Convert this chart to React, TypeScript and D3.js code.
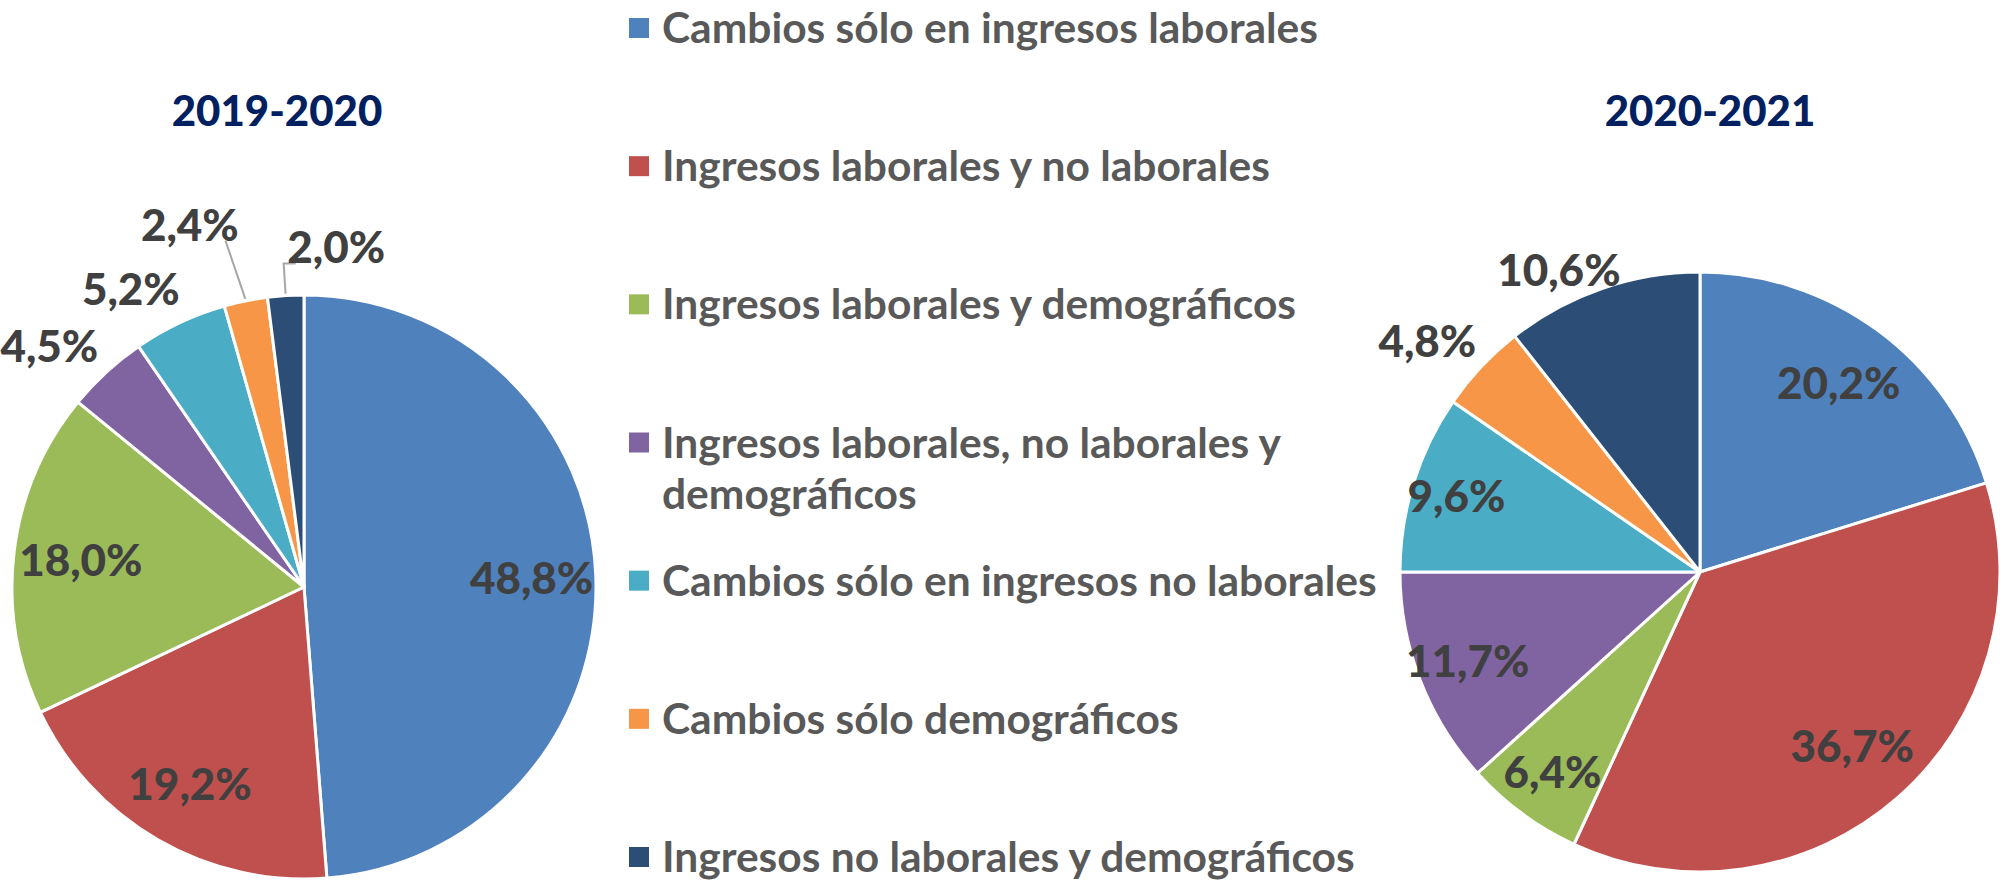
import React from "react";
import * as d3 from "d3";

const categories = [
  "Cambios sólo en ingresos laborales",
  "Ingresos laborales y no laborales",
  "Ingresos laborales y demográficos",
  "Ingresos laborales, no laborales y demográficos",
  "Cambios sólo en ingresos no laborales",
  "Cambios sólo demográficos",
  "Ingresos no laborales y demográficos",
];

const periods = ["2019-2020", "2020-2021"];
const values2019 = [48.8, 19.2, 18.0, 4.5, 5.2, 2.4, 2.0];
const values2021 = [20.2, 36.7, 6.4, 11.7, 9.6, 4.8, 10.6];

const colors = ["#4F81BD", "#C0504D", "#9BBB59", "#8064A2", "#4BACC6", "#F79646", "#2C4D75"];

// label placement per chart: radius factor and angle nudge (deg)
const placement = [
  {
    cx: 304, cy: 587, r: 292,
    labels: [
      { k: 0.78, da: 0 },
      { k: 0.78, da: 0 },
      { k: 0.77, da: 0 },
      { k: 1.2, da: -4 },
      { k: 1.18, da: -5 },
      { k: 1.3, da: -6, leader: 1.21 },
      { k: 1.17, da: 9, leader: 1.11, elbow: true },
    ],
  },
  {
    cx: 1700, cy: 572, r: 300,
    labels: [
      { k: 0.78, da: 0 },
      { k: 0.77, da: 0 },
      { k: 0.83, da: 0 },
      { k: 0.83, da: 0 },
      { k: 0.85, da: 0 },
      { k: 1.19, da: -3 },
      { k: 1.11, da: -6 },
    ],
  },
];

const font = "Lato, 'Open Sans', sans-serif";
const fmt = (v: number) => v.toFixed(1).replace(".", ",") + "%";

function Pie({ values, conf, title, titleX }: any) {
  const pie = d3.pie<number>().sort(null).value((d) => d);
  const arcs = pie(values);
  const arc = d3.arc<d3.PieArcDatum<number>>().innerRadius(0).outerRadius(conf.r);
  const polar = (ang: number, rad: number) => [Math.sin(ang) * rad, -Math.cos(ang) * rad];

  return (
    <g>
      <text x={titleX} y={126} textAnchor="middle" fontFamily={font} fontWeight={900}
        fontSize={42} fill="#002060">{title}</text>
      <g transform={`translate(${conf.cx},${conf.cy})`}>
        {arcs.map((a, i) => (
          <path key={i} d={arc(a) || ""} fill={colors[i]} stroke="#fff" strokeWidth={3} strokeLinejoin="round" />
        ))}
        {arcs.map((a, i) => {
          const p = conf.labels[i];
          const mid = (a.startAngle + a.endAngle) / 2;
          const [lx, ly] = polar(mid + (p.da * Math.PI) / 180, conf.r * p.k);
          let leader = null;
          if (p.leader) {
            const [x0, y0] = polar(mid, conf.r + 2);
            const [x1, y1] = polar(mid, conf.r * p.leader);
            const pts = p.elbow ? `${x0},${y0} ${x1},${y1} ${x1 + 12},${y1}` : `${x0},${y0} ${x1 - 8},${y1}`;
            leader = <polyline points={pts} fill="none" stroke="#A6A6A6" strokeWidth={2} />;
          }
          return (
            <g key={i}>
              {leader}
              <text x={lx} y={ly} dy="0.36em" textAnchor="middle" fontFamily={font} fontWeight={900}
                fontSize={44} fill="#404040">{fmt(values[i])}</text>
            </g>
          );
        })}
      </g>
    </g>
  );
}

function Legend() {
  const y = d3.scaleLinear().domain([0, 6]).range([28, 857]);
  return (
    <g>
      {categories.map((c, i) => {
        const lines = i === 3 ? ["Ingresos laborales, no laborales y", "demográficos"] : [c];
        return (
          <g key={i} transform={`translate(629,${y(i)})`}>
            <rect x={0} y={-10} width={20} height={20} fill={colors[i]} />
            {lines.map((l, j) => (
              <text key={j} x={33} y={15 + j * 51} fontFamily={font} fontWeight={700}
                fontSize={42.5} fill="#595959">{l}</text>
            ))}
          </g>
        );
      })}
    </g>
  );
}

export default function App() {
  return (
    <div style={{ position: "absolute", left: 0, top: 0 }}>
      <svg width={2005} height={883} style={{ display: "block", background: "#fff" }}>
        <Pie values={values2019} conf={placement[0]} title={periods[0]} titleX={277} />
        <Pie values={values2021} conf={placement[1]} title={periods[1]} titleX={1710} />
        <Legend />
      </svg>
    </div>
  );
}
